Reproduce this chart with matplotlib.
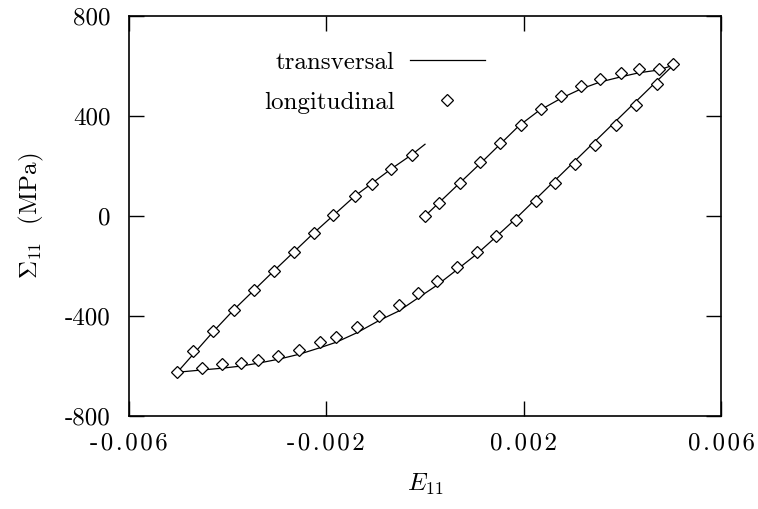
import numpy as np
import matplotlib
matplotlib.use('Agg')
import matplotlib.pyplot as plt
from matplotlib.ticker import FixedLocator, FixedFormatter

# Cyclic tension-compression test: macroscopic stress vs strain
# transversal = computed curve, longitudinal = markers

plt.rcParams['font.family'] = 'serif'
plt.rcParams['font.serif'] = ['cmr10', 'DejaVu Serif']
plt.rcParams['mathtext.fontset'] = 'cm'
plt.rcParams['axes.unicode_minus'] = False
plt.rcParams['axes.formatter.use_mathtext'] = True

# transversal (line): loading, unloading, reloading
trans_E = [0.0, 0.0012, 0.0019, 0.0023, 0.00276, 0.00316, 0.00355, 0.00398, 0.00434, 0.00474, 0.00503,
           0.0018, 0.00143, 0.00105, 0.00064, 0.00025, -0.00015, -0.00053, -0.00093, -0.00138, -0.0018,
           -0.00213, -0.00255, -0.00297, -0.00339, -0.00372, -0.00412, -0.00453, -0.00502,
           -0.00429, -0.00387, -0.00306, -0.00226, -0.00142, -0.00068, -0.00027, 0.0]
trans_S = [0, 225, 360, 420, 471, 508, 536, 557, 573, 584, 603,
           -18, -85, -152, -216, -276, -329, -380, -418, -467, -505,
           -527, -553, -573, -589, -600, -609, -616, -625,
           -462, -374, -219, -69, 80, 189, 245, 287]

# longitudinal (markers)
long_E = [0.0, 0.00028, 0.00071, 0.00112, 0.00153, 0.00195, 0.00236, 0.00276, 0.00316, 0.00355,
          0.00398, 0.00434, 0.00474, 0.00503,
          0.00471, 0.00428, 0.00387, 0.00345, 0.00304, 0.00264, 0.00225, 0.00184, 0.00143, 0.00105,
          0.00064, 0.00025, -0.00015, -0.00053, -0.00093, -0.00138, -0.0018, -0.00213, -0.00255,
          -0.00297, -0.00339, -0.00372, -0.00412, -0.00453, -0.00502,
          -0.0047, -0.00429, -0.00387, -0.00346, -0.00306, -0.00266, -0.00226, -0.00186, -0.00142,
          -0.00107, -0.00068, -0.00027]
long_S = [0, 53, 134, 215, 292, 363, 427, 479, 519, 549,
          572, 587, 588, 608,
          528, 445, 364, 284, 207, 131, 59, -16, -80, -143,
          -205, -259, -309, -356, -399, -443, -483, -503, -536,
          -560, -576, -589, -593, -607, -625,
          -539, -460, -374, -297, -219, -144, -69, 3, 80,
          130, 189, 245]

xticks = [-0.006, -0.002, 0.002, 0.006]
xlabels = ['-0.006', '-0.002', '0.002', '0.006']
yticks = [-800, -400, 0, 400, 800]
ylabels = ['-800', '-400', '0', '400', '800']

fig = plt.figure(figsize=[7.58, 5.09], dpi=100)
ax = fig.add_axes([129 / 758, 93 / 509, 592 / 758, 400 / 509])

ax.plot(trans_E, trans_S, color='black', lw=0.9, label='transversal')
ax.plot(long_E, long_S, ls='none', marker='D', ms=6.5, mfc='white', mec='black', mew=0.9,
        label='longitudinal')

ax.set_xlim(-0.006, 0.006)
ax.set_ylim(-800, 800)
# x tick labels in the original are slightly letter-spaced
spaced = ['\u200a'.join(s) for s in xlabels]
ax.xaxis.set_major_locator(FixedLocator(xticks))
ax.xaxis.set_major_formatter(FixedFormatter(spaced))
ax.yaxis.set_major_locator(FixedLocator(yticks))
ax.yaxis.set_major_formatter(FixedFormatter(ylabels))
ax.tick_params(direction='in', length=11, width=1, top=True, right=True, labelsize=18)
ax.tick_params(axis='x', pad=12)
ax.tick_params(axis='y', pad=13)
for lbl in ax.get_xticklabels():
    lbl.set_family(['cmr10', 'DejaVu Serif'])
for s in ax.spines.values():
    s.set_linewidth(1.2)

ax.set_xlabel(r'$E_{11}$', fontsize=18, labelpad=12)
ax.set_ylabel(r'$\Sigma_{11}$  (MPa)', fontsize=18, labelpad=14)

leg = ax.legend(loc='upper right', bbox_to_anchor=(0.639, 0.9675), frameon=False, markerfirst=False,
                fontsize=18, handlelength=3.0, handletextpad=0.6, labelspacing=0.7)

plt.savefig('out.png', dpi=100)
